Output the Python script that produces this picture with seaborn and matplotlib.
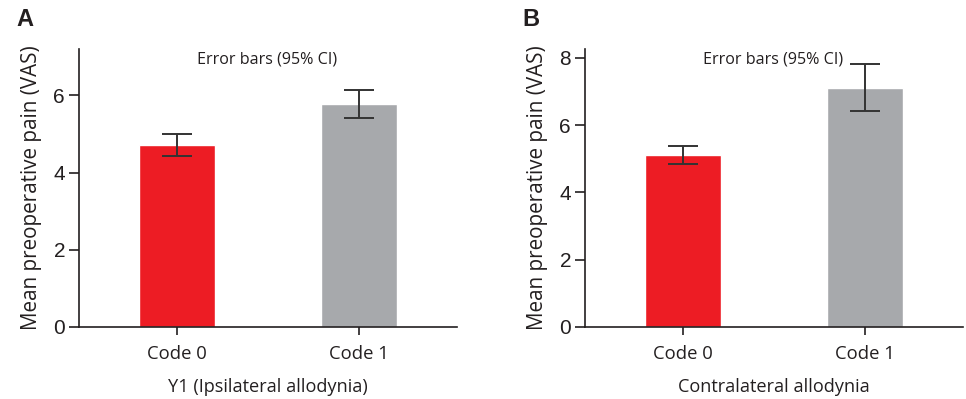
import matplotlib
matplotlib.use("Agg")
import matplotlib.pyplot as plt
import seaborn as sns
import pandas as pd

categories = ["Code 0", "Code 1"]
colors = ["#ED1C24", "#A7A9AC"]

means_a = [4.71, 5.78]
ci_low_a = [4.42, 5.41]
ci_high_a = [4.99, 6.14]

means_b = [5.10, 7.09]
ci_low_b = [4.85, 6.43]
ci_high_b = [5.39, 7.82]

yticks_a = [0, 2, 4, 6]
yticks_b = [0, 2, 4, 6, 8]

sns.set_style("ticks")
plt.rcParams["font.family"] = ["Open Sans", "DejaVu Sans"]

W, H = 966, 399
fig = plt.figure(figsize=(W / 100, H / 100), dpi=100)

panels = [
    dict(means=means_a, lo=ci_low_a, hi=ci_high_a, yticks=yticks_a, ymax=7.2,
         xlabel="Y1 (Ipsilateral allodynia)", letter="A", left=79, text_x=267),
    dict(means=means_b, lo=ci_low_b, hi=ci_high_b, yticks=yticks_b, ymax=8.26,
         xlabel="Contralateral allodynia", letter="B", left=585, text_x=773),
]

top, bottom, width = 49, 327, 378
for p in panels:
    ax = fig.add_axes([p["left"] / W, 1 - bottom / H, width / W, (bottom - top) / H])
    df = pd.DataFrame({"cat": categories, "val": p["means"]})
    sns.barplot(data=df, x="cat", y="val", hue="cat", palette=colors, legend=False,
                width=0.418, errorbar=None, saturation=1, ax=ax)
    yerr = [[m - l for m, l in zip(p["means"], p["lo"])],
            [h - m for m, h in zip(p["means"], p["hi"])]]
    ax.errorbar(range(len(categories)), p["means"], yerr=yerr, fmt="none",
                ecolor="#333333", elinewidth=1.4, capsize=11, capthick=1.4, zorder=5)
    ax.set_xlim(-0.538, 1.538)
    ax.set_ylim(0, p["ymax"])
    ax.set_yticks(p["yticks"])
    ax.set_yticklabels([str(t) for t in p["yticks"]], family=["Liberation Sans", "DejaVu Sans"],
                       fontsize=15, color="#231F20")
    ax.tick_params(axis="x", labelsize=13.3, colors="#231F20", length=6, width=1.2, pad=7)
    ax.tick_params(axis="y", length=7, width=1.2, pad=3, colors="#231F20")
    ax.set_xlabel(p["xlabel"], fontsize=13.1, color="#231F20", labelpad=11)
    ax.set_ylabel("Mean preoperative pain (VAS)", fontsize=14.9, color="#231F20", labelpad=8)
    for s in ["top", "right"]:
        ax.spines[s].set_visible(False)
    for s in ["left", "bottom"]:
        ax.spines[s].set_color("#231F20")
        ax.spines[s].set_linewidth(1.2)
    fig.text(p["text_x"] / W, 1 - 59 / H, "Error bars (95% CI)", ha="center", va="center",
             fontsize=11.6, color="#231F20")
    fig.text((p["left"] - 63) / W, 1 - 20 / H, p["letter"], ha="left", va="center",
             fontsize=17, fontweight="bold", color="#231F20",
             family=["Liberation Sans", "DejaVu Sans"])

fig.savefig("out.png", dpi=100)
